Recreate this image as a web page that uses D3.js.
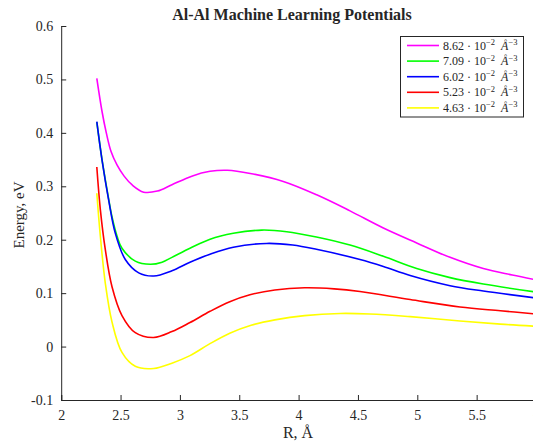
<!DOCTYPE html>
<html><head><meta charset="utf-8">
<script src="https://cdn.jsdelivr.net/npm/d3@7"></script>
<style>body{margin:0;background:#fff}svg{display:block}text{font-family:"Liberation Serif","Times New Roman",serif;fill:#262626}</style>
</head><body>
<svg id="c" width="533" height="444"></svg>
<script>
const title = "Al-Al Machine Learning Potentials";
const xLabel = "R, Å";
const yLabel = "Energy, eV";
const xTicks = [2, 2.5, 3, 3.5, 4, 4.5, 5, 5.5, 6];
const yTicks = [-0.1, 0, 0.1, 0.2, 0.3, 0.4, 0.5, 0.6];
const densities = ["8.62", "7.09", "6.02", "5.23", "4.63"];
const colors = ["#ff00ff", "#00ff00", "#0000ff", "#ff0000", "#ffff00"];

const magenta = [[2.30,0.502],[2.344,0.440],[2.38,0.400],[2.42,0.365],[2.47,0.340],[2.53,0.319],[2.60,0.302],[2.695,0.289],[2.81,0.291],[2.933,0.303],[3.10,0.319],[3.254,0.328],[3.40,0.330],[3.593,0.324],[3.871,0.309],[4.152,0.284],[4.433,0.254],[4.714,0.222],[4.995,0.194],[5.276,0.167],[5.556,0.146],[5.80,0.134],[6.0,0.125]];
const green = [[2.30,0.420],[2.344,0.350],[2.40,0.276],[2.428,0.243],[2.47,0.207],[2.512,0.184],[2.624,0.160],[2.751,0.154],[2.85,0.158],[2.933,0.167],[3.085,0.184],[3.254,0.201],[3.45,0.212],[3.69,0.218],[3.90,0.215],[4.15,0.205],[4.433,0.190],[4.714,0.169],[4.995,0.146],[5.276,0.129],[5.556,0.117],[6.0,0.102]];
const blue = [[2.30,0.421],[2.344,0.349],[2.40,0.274],[2.456,0.212],[2.54,0.163],[2.653,0.138],[2.779,0.132],[2.933,0.142],[3.085,0.158],[3.254,0.173],[3.45,0.186],[3.73,0.193],[3.95,0.190],[4.15,0.182],[4.517,0.163],[4.714,0.150],[4.94,0.133],[5.276,0.114],[5.556,0.104],[6.0,0.091]];
const red = [[2.30,0.336],[2.33,0.256],[2.372,0.181],[2.428,0.112],[2.512,0.058],[2.624,0.026],[2.779,0.017],[2.933,0.028],[3.085,0.045],[3.254,0.066],[3.42,0.084],[3.59,0.097],[3.80,0.106],[4.05,0.110],[4.30,0.108],[4.517,0.103],[4.94,0.088],[5.36,0.074],[5.70,0.067],[6.0,0.061]];
const yellow = [[2.30,0.287],[2.33,0.206],[2.372,0.118],[2.428,0.046],[2.512,-0.011],[2.624,-0.037],[2.779,-0.041],[2.933,-0.031],[3.085,-0.017],[3.25,0.005],[3.42,0.025],[3.60,0.040],[3.80,0.050],[4.05,0.058],[4.35,0.062],[4.60,0.061],[4.94,0.056],[5.36,0.048],[5.70,0.042],[6.0,0.038]];
const series = [magenta, green, blue, red, yellow];

const svg = d3.select("#c");
const L = 61.2, R = 536, T = 26, B = 400;
const x = d3.scaleLinear().domain([2, 6]).range([L, R]);
const y = d3.scaleLinear().domain([-0.1, 0.6]).range([B, T]);

const line = d3.line().x(d => x(d[0])).y(d => y(d[1])).curve(d3.curveCatmullRom.alpha(0.5));
series.forEach((s, i) => {
  svg.append("path").datum(s).attr("d", line).attr("fill", "none")
    .attr("stroke", colors[i]).attr("stroke-width", 1.6);
});

const fmt = d => d === 0 ? "0" : String(d);
const xa = svg.append("g").attr("transform", `translate(0,${B})`)
  .call(d3.axisBottom(x).tickValues(xTicks).tickSize(-5).tickPadding(10).tickFormat(fmt));
const ya = svg.append("g").attr("transform", `translate(${L},0)`)
  .call(d3.axisLeft(y).tickValues(yTicks).tickSize(-5).tickPadding(8).tickFormat(fmt));
[xa, ya].forEach(a => {
  a.attr("font-family", null).attr("font-size", null);
  a.select(".domain").attr("stroke", "#262626").attr("stroke-width", 1);
  a.selectAll(".tick line").attr("stroke", "#262626");
  a.selectAll(".tick text").style("font-family", '"Liberation Serif",serif').style("font-size", "14px").attr("fill", "#262626");
});

svg.append("text").attr("x", 292).attr("y", 20).attr("text-anchor", "middle")
  .attr("font-weight", "bold").attr("font-size", 16).text(title);
svg.append("text").attr("x", 298).attr("y", 438).attr("text-anchor", "middle")
  .attr("font-size", 16).text(xLabel);
svg.append("text").attr("transform", "translate(24,215) rotate(-90)").attr("text-anchor", "middle")
  .attr("font-size", 15).text(yLabel);

// legend
const lg = svg.append("g");
lg.append("rect").attr("x", 400.5).attr("y", 36.5).attr("width", 123).attr("height", 80.5)
  .attr("fill", "#fff").attr("stroke", "#262626").attr("stroke-width", 1);
densities.forEach((d, i) => {
  const yy = 45.5 + i * 15.6;
  lg.append("line").attr("x1", 407).attr("x2", 439).attr("y1", yy).attr("y2", yy)
    .attr("stroke", colors[i]).attr("stroke-width", 1.6);
  const t = lg.append("text").attr("x", 443).attr("y", yy + 4).attr("font-size", 12);
  t.append("tspan").text(d + " · 10");
  t.append("tspan").attr("font-size", 8.5).attr("dy", -4.5).text("−2");
  t.append("tspan").attr("font-size", 12).attr("dy", 4.5).attr("font-style", "italic").text("\u2002Å");
  t.append("tspan").attr("font-size", 8.5).attr("dy", -4.5).text("−3");
});
</script>
</body></html>
